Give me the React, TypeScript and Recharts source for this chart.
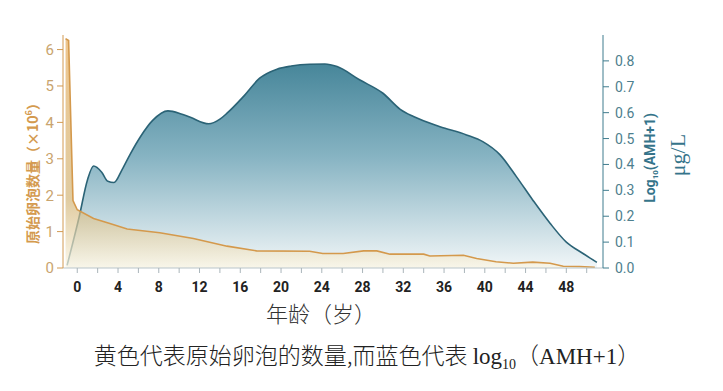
import React from 'react';
import { ComposedChart, Area, XAxis, YAxis } from 'recharts';

// Blue series: log10(AMH+1), µg/L (right axis)
const amhAges = [-1.0, 0.2, 1.0, 1.6, 2.4, 3.0, 3.6, 4.4, 5.2, 6.2, 7.4, 8.9, 10.2, 11.1, 12.9, 14.0, 14.7, 16.3, 17.9, 19.6, 21.0, 22.8, 24.3, 25.5, 27.7, 30.0, 31.7, 33.0, 35.6, 38.2, 39.8, 41.5, 43.1, 44.7, 46.4, 48.0, 49.6, 51.0];
const amhValues = [0.01, 0.2, 0.34, 0.394, 0.37, 0.335, 0.33, 0.38, 0.44, 0.507, 0.57, 0.607, 0.595, 0.582, 0.557, 0.575, 0.598, 0.662, 0.733, 0.768, 0.78, 0.787, 0.788, 0.778, 0.727, 0.675, 0.613, 0.585, 0.546, 0.514, 0.488, 0.437, 0.353, 0.263, 0.173, 0.1, 0.057, 0.022];

// Yellow series: primordial follicles (×10^6, left axis)
const follicleAges = [-1.15, -0.85, -0.42, 0.0, 1.6, 3.2, 4.9, 8.1, 11.4, 14.7, 17.6, 22.8, 24.1, 26.1, 28.1, 29.4, 30.7, 34.0, 34.6, 37.9, 39.2, 41.1, 42.8, 44.7, 46.4, 47.7, 49.3, 50.8];
const follicleValues = [6.3, 6.25, 1.85, 1.6, 1.36, 1.22, 1.07, 0.97, 0.81, 0.6, 0.47, 0.46, 0.4, 0.4, 0.47, 0.47, 0.38, 0.38, 0.33, 0.35, 0.26, 0.17, 0.13, 0.16, 0.13, 0.05, 0.04, 0.02];

const xTicks = [0, 2, 4, 6, 8, 10, 12, 14, 16, 18, 20, 22, 24, 26, 28, 30, 32, 34, 36, 38, 40, 42, 44, 46, 48, 50];
const leftTicks = [0, 1, 2, 3, 4, 5, 6];
const rightTicks = [0, 0.1, 0.2, 0.3, 0.4, 0.5, 0.6, 0.7, 0.8];

type Row = { age: number; amh?: number; follicles?: number };
const rowMap = new Map<number, Row>();
amhAges.forEach((a, i) => {
  const r = rowMap.get(a) || { age: a };
  r.amh = amhValues[i];
  rowMap.set(a, r);
});
follicleAges.forEach((a, i) => {
  const r = rowMap.get(a) || { age: a };
  r.follicles = follicleValues[i];
  rowMap.set(a, r);
});
const data = Array.from(rowMap.values()).sort((p, q) => p.age - q.age);

const TAN = '#d29a52';
const TEAL = '#3f7c8e';

const XTick = (props: any) => {
  const { x, y, payload } = props;
  if (payload.value % 4 !== 0) return <g />;
  return (
    <text x={x} y={y} dy={11} textAnchor="middle" fontFamily="Roboto, 'Liberation Sans', sans-serif" fontWeight={700} fontSize={14} fill="#222">
      {payload.value}
    </text>
  );
};

export default function App() {
  return (
    <div style={{ position: 'absolute', left: 0, top: 0, width: 723, height: 391, background: '#fff', overflow: 'hidden' }}>
      <ComposedChart width={723} height={391} data={data} margin={{ top: 35, left: 13, right: 70, bottom: 88 }}>
        <defs>
          <linearGradient id="blueFill" x1="0" y1="0" x2="0" y2="1">
            <stop offset="0%" stopColor="#47869a" stopOpacity={1} />
            <stop offset="45%" stopColor="#86b3c2" stopOpacity={1} />
            <stop offset="100%" stopColor="#f1f6f8" stopOpacity={1} />
          </linearGradient>
          <linearGradient id="yellowFill" x1="0" y1="0" x2="0" y2="1">
            <stop offset="0%" stopColor="#e9b46a" stopOpacity={0.9} />
            <stop offset="70%" stopColor="#d2b374" stopOpacity={0.8} />
            <stop offset="100%" stopColor="#fbf6e4" stopOpacity={0.85} />
          </linearGradient>
        </defs>
        <XAxis
          dataKey="age"
          type="number"
          domain={[-1.4, 51.6]}
          allowDataOverflow
          ticks={xTicks}
          interval={0}
          tick={<XTick />}
          tickSize={5}
          tickMargin={8}
          height={35}
          stroke="#b9c5ca"
          tickLine={{ stroke: '#aab5ba' }}
        />
        <YAxis
          yAxisId="left"
          orientation="left"
          domain={[0, 6.4]}
          ticks={leftTicks}
          interval={0}
          width={50}
          tickSize={6}
          tickMargin={3}
          stroke={TAN}
          tick={{ fill: '#c9a46e', fontSize: 15, fontFamily: 'Roboto, sans-serif' }}
        />
        <YAxis
          yAxisId="right"
          orientation="right"
          domain={[0, 0.9]}
          ticks={rightTicks}
          interval={0}
          width={50}
          tickSize={6}
          tickMargin={6}
          stroke={TEAL}
          tickFormatter={(v: number) => v.toFixed(1)}
          tick={{ fill: '#4e7f8e', fontSize: 14, fontFamily: 'Roboto, sans-serif' }}
        />
        <Area
          yAxisId="right"
          type="monotone"
          dataKey="amh"
          connectNulls
          stroke="#2b6376"
          strokeWidth={1.6}
          fill="url(#blueFill)"
          fillOpacity={1}
          isAnimationActive={false}
          dot={false}
          activeDot={false}
        />
        <Area
          yAxisId="left"
          type="linear"
          dataKey="follicles"
          connectNulls
          stroke="#d4994c"
          strokeWidth={1.6}
          fill="url(#yellowFill)"
          fillOpacity={0.85}
          isAnimationActive={false}
          dot={false}
          activeDot={false}
        />
      </ComposedChart>

      <div style={{ position: 'absolute', left: 32, top: 170, transform: 'translate(-50%, -50%) rotate(-90deg)', whiteSpace: 'nowrap', color: '#d49a4e', fontWeight: 700, fontSize: 14, fontFamily: "'Noto Sans CJK SC', sans-serif" }}>
        原始卵泡数量（×10<sup style={{ fontSize: 9 }}>6</sup>）
      </div>
      <div style={{ position: 'absolute', left: 651, top: 158, transform: 'translate(-50%, -50%) rotate(-90deg)', whiteSpace: 'nowrap', color: '#35748a', fontWeight: 700, fontSize: 14, fontFamily: "Roboto, 'Liberation Sans', sans-serif" }}>
        Log<sub style={{ fontSize: 8 }}>10</sub>(AMH+1)
      </div>
      <div style={{ position: 'absolute', left: 678, top: 155, transform: 'translate(-50%, -50%) rotate(-90deg)', whiteSpace: 'nowrap', color: '#35748a', fontSize: 22, fontFamily: "'Liberation Serif', 'DejaVu Serif', serif" }}>
        μg/L
      </div>
      <div style={{ position: 'absolute', left: 321, top: 312, transform: 'translate(-50%, -50%)', whiteSpace: 'nowrap', color: '#333', fontSize: 22, fontFamily: "'Noto Sans CJK SC', sans-serif", fontWeight: 300 }}>
        年龄（岁）
      </div>
      <div style={{ position: 'absolute', left: 367, top: 355, transform: 'translate(-50%, -50%)', whiteSpace: 'nowrap', color: '#222', fontSize: 23, fontFamily: "'Noto Sans CJK SC', sans-serif", fontWeight: 300 }}>
        黄色代表原始卵泡的数量,而蓝色代表 <span style={{ fontFamily: "'Liberation Serif', serif" }}>log<sub style={{ fontSize: 14 }}>10</sub></span>（<span style={{ fontFamily: "'Liberation Serif', serif" }}>AMH+1</span>）
      </div>
    </div>
  );
}
